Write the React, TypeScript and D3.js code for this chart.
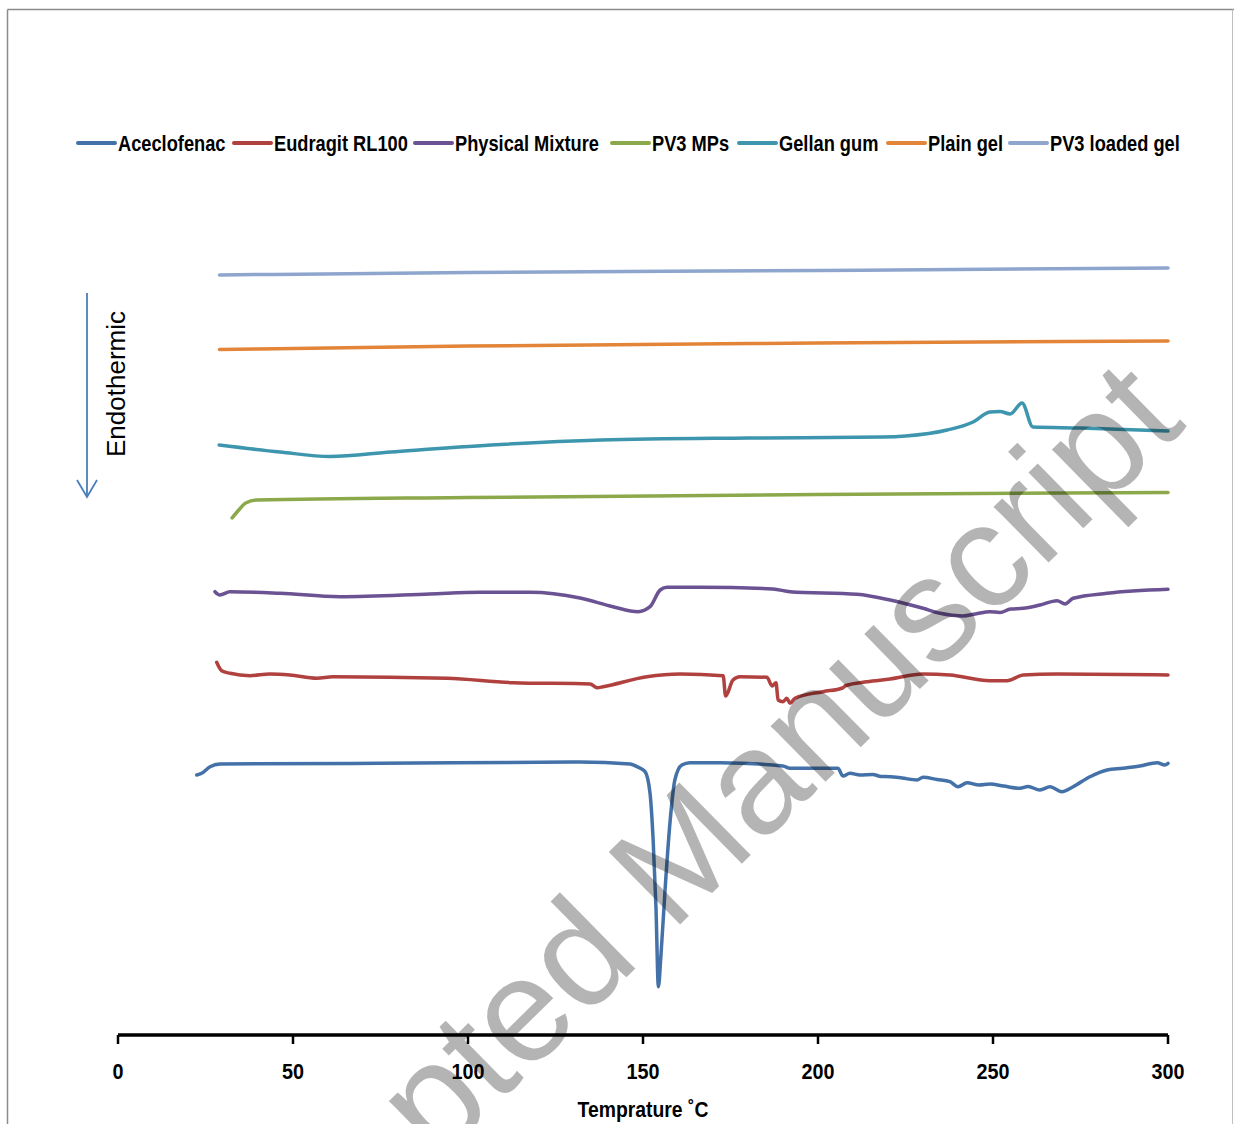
import * as d3 from 'd3';

type Pt = [number, number];

// DSC thermograms: temperature (°C) vs heat flow (arbitrary, offset units)
const seriesNames = [
  'Aceclofenac',
  'Eudragit RL100',
  'Physical Mixture',
  'PV3 MPs',
  'Gellan gum',
  'Plain gel',
  'PV3 loaded gel',
];

const seriesColors = ['#4472a8', '#b0413e', '#6b5293', '#8ba84a', '#3d96ae', '#e28538', '#8ea5cd'];

const aceclofenac: Pt[] = [
  [22.5, 26.0], [23.9, 26.17], [26.3, 26.83], [29.1, 27.1], [74.9, 27.17], [132, 27.3],
  [146.3, 27.1], [148.5, 26.8], [150.6, 26.33], [152.0, 24.2], [152.9, 19.5], [153.7, 12.83],
  [154.4, 4.83], [155.1, 7.83], [156.3, 14.5], [157.7, 21.2], [159.1, 25.5], [161.1, 27.0],
  [163.4, 27.23], [172, 27.23], [190, 26.9], [192, 26.67], [205.7, 26.67], [207.1, 25.9],
  [209.1, 26.17], [212, 26.0], [215.7, 26.05], [218, 25.85], [220.6, 25.83], [224, 25.7],
  [228.3, 25.5], [230, 25.77], [234, 25.55], [237.7, 25.33], [240, 24.83], [242.6, 25.23],
  [246, 25.0], [249.1, 25.1], [253, 24.9], [257.7, 24.67], [260, 24.85], [263.4, 24.5],
  [266.3, 24.83], [269.7, 24.33], [272.9, 24.83], [277.7, 25.83], [282.6, 26.5], [287.1, 26.67],
  [292, 26.9], [296.9, 27.23], [299.1, 27.0], [300, 27.17],
];

const eudragit: Pt[] = [
  [28.2, 37.27], [29.6, 36.43], [32, 36.17], [37.7, 35.93], [43.4, 36.1], [49.1, 36.0],
  [56.8, 35.67], [61.4, 35.83], [94, 35.67], [112.9, 35.23], [134.9, 35.1], [136.9, 34.73],
  [138.6, 34.83], [151.1, 35.83], [160.6, 36.1], [172.9, 35.93], [173.6, 33.9], [175.7, 35.5],
  [177.7, 35.83], [185.4, 35.77], [186.9, 34.9], [188, 35.23], [188.6, 33.5], [190, 33.33],
  [191.1, 33.67], [192, 33.17], [193.4, 33.67], [201.4, 34.33], [207, 34.7], [208, 34.95],
  [214, 35.33], [220.6, 35.6], [230, 36.1], [237.7, 36.0], [249.1, 35.43], [254, 35.43],
  [258.6, 36.0], [268.3, 36.1], [300, 36.0],
];

const physicalMixture: Pt[] = [
  [27.7, 44.33], [29.1, 44.0], [32, 44.33], [46.3, 44.17], [63.4, 43.83], [89.1, 44.1],
  [103.4, 44.27], [117.7, 44.27], [132, 43.7], [141.4, 42.83], [148.6, 42.33], [152, 42.83],
  [154.9, 44.5], [156.9, 44.77], [166.3, 44.77], [187.1, 44.6], [192, 44.33], [211.1, 44.07],
  [220.6, 43.5], [230, 42.67], [234.9, 42.17], [241.4, 41.9], [245, 42.1], [249.1, 42.33],
  [252, 42.25], [255, 42.6], [258.6, 42.67], [263.4, 43.0], [268.3, 43.43], [270.6, 43.1],
  [272.9, 43.67], [282.6, 44.17], [300, 44.57],
];

const pv3Mps: Pt[] = [
  [32.6, 51.7], [34.5, 52.5], [36.5, 53.2], [39.7, 53.5], [100, 53.75], [200, 54.05], [300, 54.25],
];

const gellanGum: Pt[] = [
  [28.9, 59.0], [46.3, 58.3], [60.6, 57.85], [78, 58.3], [106.6, 59.0], [138, 59.5], [180, 59.7],
  [218.6, 59.8], [225, 59.9], [236.9, 60.5], [244.3, 61.3], [249.1, 62.3], [252, 62.35],
  [254.9, 62.1], [258.3, 63.2], [261.4, 60.8], [275, 60.7], [300, 60.4],
];

const plainGel: Pt[] = [
  [29, 68.55], [100, 68.9], [200, 69.2], [300, 69.4],
];

const pv3LoadedGel: Pt[] = [
  [29, 76.0], [100, 76.25], [200, 76.45], [300, 76.7],
];

const seriesData = [aceclofenac, eudragit, physicalMixture, pv3Mps, gellanGum, plainGel, pv3LoadedGel];

const xTicks = [0, 50, 100, 150, 200, 250, 300];

// legend layout (left edge of each swatch)
const legendStarts = [78, 234, 415, 612, 739, 888, 1010];

const boldFont = "'Liberation Sans', Arial, sans-serif";
const squeeze = 0.83;

export default function App() {
  const x = d3.scaleLinear().domain([0, 300]).range([118, 1168]);
  const y = d3.scaleLinear().domain([0, 80]).range([1035, 235]);

  const line = d3
    .line<Pt>()
    .x((d) => x(d[0]))
    .y((d) => y(d[1]))
    .curve(d3.curveMonotoneX);

  const boldStyle = { fontFamily: boldFont, fontWeight: 'bold', fontSize: 22, fill: '#000' };

  const paths = [];
  for (let i = 0; i < seriesData.length; i++) {
    paths.push(
      <path
        key={`s${i}`}
        d={line(seriesData[i]) || ''}
        fill='none'
        stroke={seriesColors[i]}
        strokeWidth={3.5}
        strokeLinejoin='round'
        strokeLinecap='round'
      />
    );
  }

  const legend = [];
  for (let i = 0; i < seriesNames.length; i++) {
    const lx = legendStarts[i];
    legend.push(
      <g key={`lg${i}`}>
        <line x1={lx} x2={lx + 37} y1={143} y2={143} stroke={seriesColors[i]} strokeWidth={4} strokeLinecap='round' />
        <text transform={`translate(${lx + 40},151) scale(${squeeze},1)`} style={boldStyle}>
          {seriesNames[i]}
        </text>
      </g>
    );
  }

  const ticks = xTicks.map((t) => (
    <g key={`t${t}`} transform={`translate(${x(t)},0)`}>
      <line y1={1035} y2={1044} stroke='#000' strokeWidth={2.5} />
      <text transform={`translate(0,1079) scale(0.9,1)`} textAnchor='middle' style={boldStyle}>
        {t}
      </text>
    </g>
  ));

  return (
    <svg
      width={1234}
      height={1124}
      style={{ position: 'absolute', left: 0, top: 0, display: 'block', background: '#fff' }}
    >
      <rect x={0} y={0} width={1234} height={1124} fill='#fff' />
      {/* chart frame */}
      <line x1={7.5} y1={9.5} x2={1234} y2={9.5} stroke='#8c8c8c' strokeWidth={1.5} />
      <line x1={7.5} y1={9.5} x2={7.5} y2={1124} stroke='#8c8c8c' strokeWidth={1.5} />
      <line x1={1232.5} y1={9.5} x2={1232.5} y2={1124} stroke='#bfbfbf' strokeWidth={1} />

      <g>{legend}</g>

      {/* endothermic arrow */}
      <g stroke='#4a7ebb' strokeWidth={1.8} fill='none'>
        <line x1={87} y1={293} x2={87} y2={497} />
        <polyline points='77,480 87,497 97,480' />
      </g>
      <text
        transform='translate(125,384) rotate(-90)'
        textAnchor='middle'
        style={{ fontFamily: "'Liberation Sans', Arial, sans-serif", fontSize: 26, fill: '#000' }}
      >
        Endothermic
      </text>

      <g>{paths}</g>

      {/* x axis */}
      <line x1={x(0)} x2={x(300)} y1={1035} y2={1035} stroke='#000' strokeWidth={3.5} />
      <g>{ticks}</g>
      <text
        transform={`translate(${x(150)},1117) scale(0.88,1)`}
        textAnchor='middle'
        style={boldStyle}
      >
        Temprature  ˚C
      </text>

      {/* watermark */}
      <text
        transform='translate(695,910) rotate(-44.5)'
        textAnchor='middle'
        style={{ fontFamily: "'Liberation Sans', Arial, sans-serif", fontSize: 148, fill: '#000', opacity: 0.29 }}
      >
        Accepted Manuscript
      </text>
    </svg>
  );
}
